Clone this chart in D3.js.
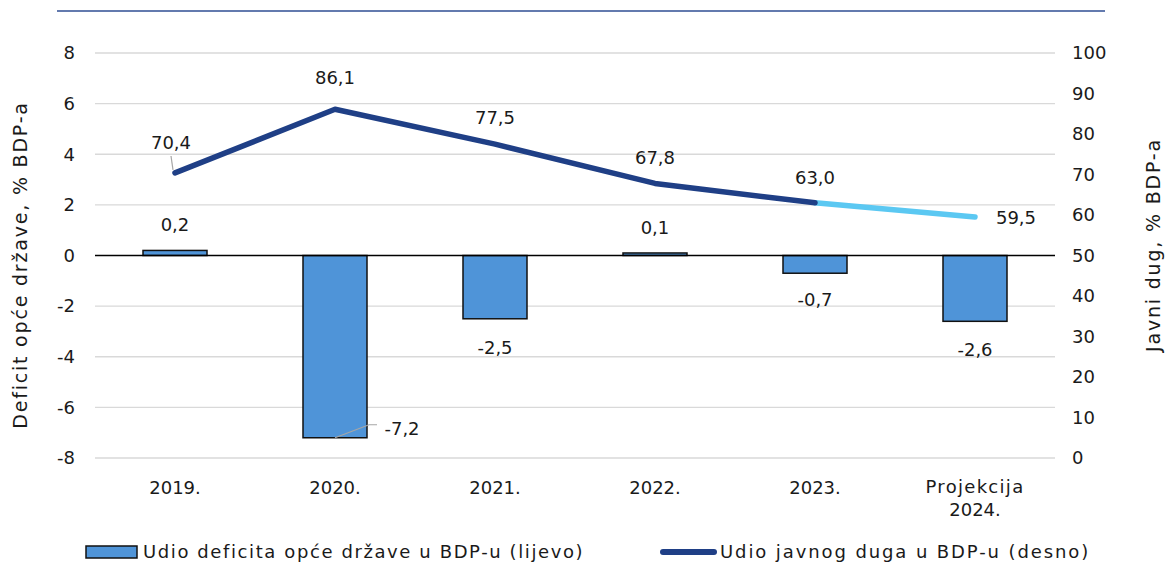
<!DOCTYPE html>
<html><head><meta charset="utf-8">
<script src="https://cdn.jsdelivr.net/npm/d3@7"></script>
<style>body{margin:0;background:#fff;} text{font-family:"DejaVu Sans",sans-serif;fill:#1a1a1a;}</style>
</head><body>
<svg id="c" width="1169" height="587"></svg>
<script>
const categories = ["2019.", "2020.", "2021.", "2022.", "2023.", "Projekcija\n2024."];
const deficit = [0.2, -7.2, -2.5, 0.1, -0.7, -2.6];
const debt = [70.4, 86.1, 77.5, 67.8, 63.0, 59.5];
const leftTicks = [-8, -6, -4, -2, 0, 2, 4, 6, 8];
const rightTicks = [0, 10, 20, 30, 40, 50, 60, 70, 80, 90, 100];

const svg = d3.select("#c");
const fs = 18;
const FONT = '"DejaVu Sans",sans-serif';
const fmt = v => v.toFixed(1).replace(".", ",");

svg.append("line").attr("x1", 57).attr("x2", 1105).attr("y1", 11).attr("y2", 11)
  .attr("stroke", "#2F4E93").attr("stroke-width", 1.5);

const x = d3.scaleBand().domain(categories).range([95, 1055]).paddingInner(0.6).paddingOuter(0.3);
const yL = d3.scaleLinear().domain([-8, 8]).range([458, 53]);
const yR = d3.scaleLinear().domain([0, 100]).range([458, 53]);

// grid
svg.append("g").selectAll("line").data(leftTicks.filter(t => t !== 0)).join("line")
  .attr("x1", 95).attr("x2", 1055).attr("y1", d => yL(d)).attr("y2", d => yL(d))
  .attr("stroke", "#d9d9d9").attr("stroke-width", 1.3);

// left axis
const gL = svg.append("g").attr("transform", "translate(95,0)")
  .call(d3.axisLeft(yL).tickValues(leftTicks).tickSize(0).tickPadding(20).tickFormat(d => d));
gL.select(".domain").remove();
gL.selectAll("text").attr("font-size", fs).style("font-family", FONT).attr("fill", "#1a1a1a");

const gR = svg.append("g").attr("transform", "translate(1055,0)")
  .call(d3.axisRight(yR).tickValues(rightTicks).tickSize(0).tickPadding(17).tickFormat(d => d));
gR.select(".domain").remove();
gR.selectAll("text").attr("font-size", fs).style("font-family", FONT).attr("fill", "#1a1a1a");

// bars
const bx = (d, i) => x(categories[i]);
svg.append("g").selectAll("rect").data(deficit).join("rect")
  .attr("x", bx).attr("width", x.bandwidth())
  .attr("y", d => Math.min(yL(d), yL(0))).attr("height", d => Math.abs(yL(d) - yL(0)))
  .attr("fill", "#4F94D8").attr("stroke", "#111").attr("stroke-width", 1.5);

// zero line
svg.append("line").attr("x1", 95).attr("x2", 1055).attr("y1", yL(0)).attr("y2", yL(0))
  .attr("stroke", "#000").attr("stroke-width", 1.5);

// x labels
const xc = i => x(categories[i]) + x.bandwidth() / 2;
categories.forEach((c, i) => {
  const lines = c.split("\n");
  const t = svg.append("text").attr("text-anchor", "middle").attr("font-size", fs);
  const y0 = lines.length > 1 ? 493 : 494;
  lines.forEach((l, j) => t.append("tspan").attr("x", xc(i)).attr("y", y0 + j * 23)
    .attr("letter-spacing", /[a-z]/.test(l) ? 1.3 : 0).text(l));
});

// debt line
const line = d3.line().x((d, i) => xc(i)).y(d => yR(d));
svg.append("path").datum(debt.slice(4, 6)).attr("d", d3.line().x((d, i) => xc(i + 4)).y(d => yR(d)))
  .attr("fill", "none").attr("stroke", "#5BC8F2").attr("stroke-width", 5.5).attr("stroke-linecap", "round");
svg.append("path").datum(debt.slice(0, 5)).attr("d", line)
  .attr("fill", "none").attr("stroke", "#1F3F86").attr("stroke-width", 5.5).attr("stroke-linecap", "round").attr("stroke-linejoin", "round");

// leader lines
svg.append("line").attr("x1", xc(0) - 2).attr("y1", yR(debt[0]) - 3).attr("x2", xc(0) - 4).attr("y2", 156)
  .attr("stroke", "#a6a6a6").attr("stroke-width", 1.2);
svg.append("polyline").attr("points", `${xc(1)},${yL(-7.2)} ${xc(1) + 34},${yL(-7.2) - 13} ${xc(1) + 42},${yL(-7.2) - 13}`)
  .attr("fill", "none").attr("stroke", "#a6a6a6").attr("stroke-width", 1.2);

// debt labels
const debtLabelPos = [[-4, 149], [0, 84], [0, 124], [0, 164], [0, 184], [41, 224]];
debt.forEach((d, i) => {
  svg.append("text").attr("x", xc(i) + debtLabelPos[i][0]).attr("y", debtLabelPos[i][1])
    .attr("text-anchor", "middle").attr("font-size", fs).text(fmt(d));
});
// deficit labels
const defLabelPos = [[0, 231], [67, 435], [0, 354], [0, 234], [0, 306], [0, 356]];
deficit.forEach((d, i) => {
  svg.append("text").attr("x", xc(i) + defLabelPos[i][0]).attr("y", defLabelPos[i][1])
    .attr("text-anchor", "middle").attr("font-size", fs).text(fmt(d));
});

// axis titles
svg.append("text").attr("transform", "translate(27,265) rotate(-90)").attr("text-anchor", "middle")
  .attr("font-size", 19).attr("letter-spacing", 1.8).text("Deficit opće države, % BDP-a");
svg.append("text").attr("transform", "translate(1160,245) rotate(-90)").attr("text-anchor", "middle")
  .attr("font-size", 19).attr("letter-spacing", 1.8).text("Javni dug, % BDP-a");

// legend
svg.append("rect").attr("x", 86).attr("y", 546).attr("width", 51).attr("height", 12)
  .attr("fill", "#4F94D8").attr("stroke", "#111").attr("stroke-width", 1.5);
svg.append("text").attr("x", 143).attr("y", 558).attr("font-size", fs).attr("letter-spacing", 1.6)
  .text("Udio deficita opće države u BDP-u (lijevo)");
svg.append("line").attr("x1", 663).attr("x2", 714).attr("y1", 552).attr("y2", 552)
  .attr("stroke", "#1F3F86").attr("stroke-width", 6).attr("stroke-linecap", "round");
svg.append("text").attr("x", 720).attr("y", 558).attr("font-size", fs).attr("letter-spacing", 1.9)
  .text("Udio javnog duga u BDP-u (desno)");
</script>
</body></html>
